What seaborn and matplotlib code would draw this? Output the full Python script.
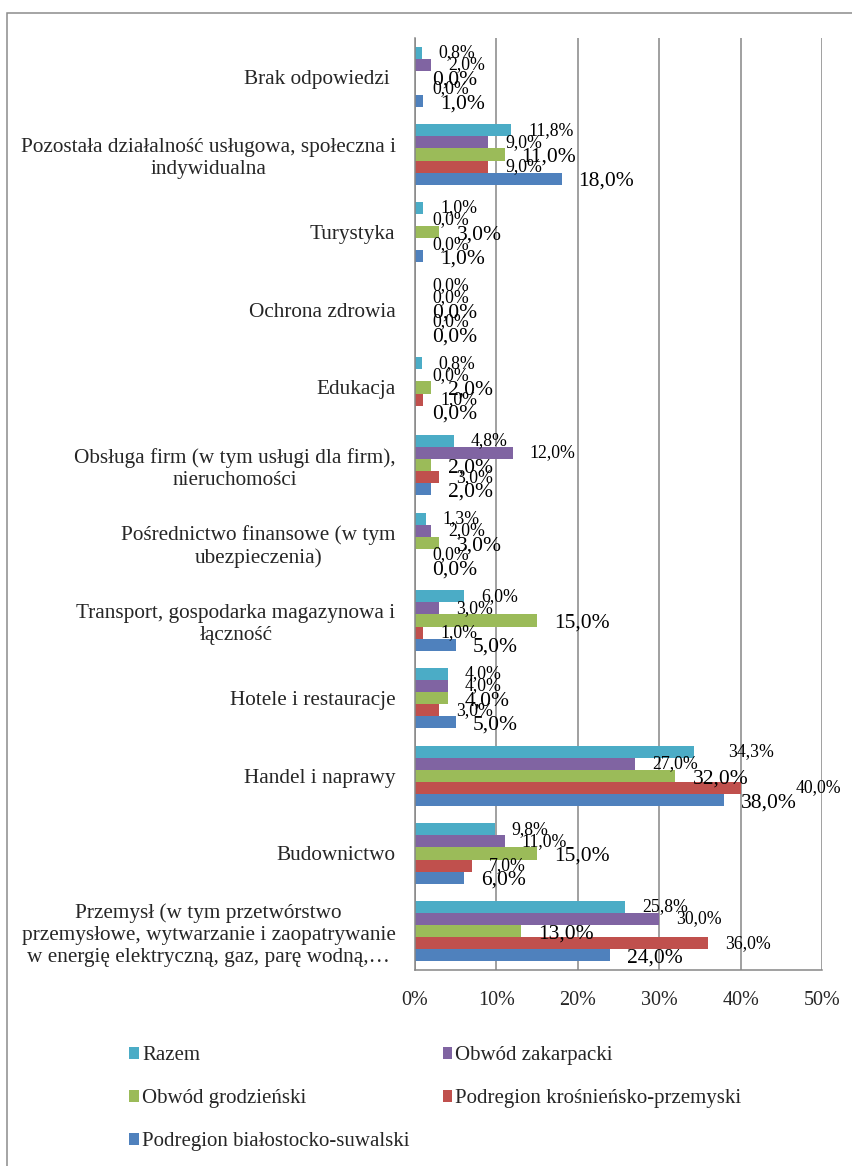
import pandas as pd
import matplotlib
matplotlib.use("Agg")
import matplotlib.pyplot as plt
import seaborn as sns
from matplotlib.patches import Rectangle, Patch

# Step 1: data
categories = [
    "Brak odpowiedzi ",
    "Pozostała działalność usługowa, społeczna i\nindywidualna",
    "Turystyka",
    "Ochrona zdrowia",
    "Edukacja",
    "Obsługa firm (w tym usługi dla firm),\nnieruchomości",
    "Pośrednictwo finansowe (w tym\nubezpieczenia)",
    "Transport, gospodarka magazynowa i\nłączność",
    "Hotele i restauracje",
    "Handel i naprawy",
    "Budownictwo",
    "Przemysł (w tym przetwórstwo\nprzemysłowe, wytwarzanie i zaopatrywanie\nw energię elektryczną, gaz, parę wodną,…",
]
series = [
    "Razem",
    "Obwód zakarpacki",
    "Obwód grodzieński",
    "Podregion krośnieńsko-przemyski",
    "Podregion białostocko-suwalski",
]
razem = [0.8, 11.8, 1.0, 0.0, 0.8, 4.8, 1.3, 6.0, 4.0, 34.3, 9.8, 25.8]
zakarpacki = [2.0, 9.0, 0.0, 0.0, 0.0, 12.0, 2.0, 3.0, 4.0, 27.0, 11.0, 30.0]
grodzienski = [0.0, 11.0, 3.0, 0.0, 2.0, 2.0, 3.0, 15.0, 4.0, 32.0, 15.0, 13.0]
krosnienski = [0.0, 9.0, 0.0, 0.0, 1.0, 3.0, 0.0, 1.0, 3.0, 40.0, 7.0, 36.0]
bialostocki = [1.0, 18.0, 1.0, 0.0, 0.0, 2.0, 0.0, 5.0, 5.0, 38.0, 6.0, 24.0]

colors = ["#4BACC6", "#8064A2", "#9BBB59", "#C0504D", "#4F81BD"]

rows = []
for name, vals in zip(series, [razem, zakarpacki, grodzienski, krosnienski, bialostocki]):
    for cat, v in zip(categories, vals):
        rows.append({"kategoria": cat, "seria": name, "wartosc": v})
df = pd.DataFrame(rows)

# Step 2: style
sns.set_style("white")
plt.rcParams["font.family"] = ["Liberation Serif", "DejaVu Serif"]
grid_col = "#868686"

fig = plt.figure(figsize=(8.53, 11.66), dpi=100)
ax = fig.add_axes([415 / 853, 1 - 970 / 1166, (822 - 415) / 853, (970 - 38) / 1166])

sns.barplot(data=df, y="kategoria", x="wartosc", hue="seria", order=categories,
            hue_order=series, palette=colors, orient="h", width=0.78,
            saturation=1, linewidth=0, ax=ax, legend=False)

# Step 3: axes
ax.set_xlim(0, 50)
ax.set_ylim(len(categories) - 0.5, -0.5)
ax.set_xticks(range(0, 51, 10))
ax.set_xticklabels([f"{t}%" for t in range(0, 51, 10)], fontsize=14.5)
ax.set_xlabel("")
ax.set_ylabel("")
ax.xaxis.grid(True, color=grid_col, linewidth=1.1)
ax.set_axisbelow(True)
for side in ["top", "right"]:
    ax.spines[side].set_visible(False)
for side in ["left", "bottom"]:
    ax.spines[side].set_color(grid_col)
    ax.spines[side].set_linewidth(1.1)

ax.tick_params(axis="x", direction="out", length=6, width=1.1, color=grid_col, pad=9)
ax.tick_params(axis="y", which="major", length=0, pad=14, labelsize=15.3)
ax.set_yticks([i - 0.5 for i in range(len(categories) + 1)], minor=True)
ax.tick_params(axis="y", which="minor", direction="out", length=6, width=1.1, color=grid_col)
for lbl in ax.get_yticklabels():
    lbl.set_multialignment("center")

# Step 4: value labels
big = {"Obwód grodzieński", "Podregion białostocko-suwalski"}
nudge_px = {("Handel i naprawy", "Razem"): 17, ("Handel i naprawy", "Podregion krośnieńsko-przemyski"): 38}
for name, cont in zip(series, ax.containers):
    for cat, bar in zip(categories, cont):
        v = bar.get_width()
        yc = bar.get_y() + bar.get_height() / 2
        extra = nudge_px.get((cat, name), 0)
        dy = -2 if name in big else 0
        ax.annotate(f"{v:.1f}%".replace(".", ","), (v, yc),
                    xytext=((17 + extra) * 0.72, dy), textcoords="offset points",
                    ha="left", va="center",
                    fontsize=15.5 if name in big else 12.8, color="black",
                    annotation_clip=False)

# Step 5: legend (row-wise order like the original)
handles = [Patch(facecolor=c, edgecolor="none") for c in colors]
order = [0, 2, 4, 1, 3]
fig.legend([handles[i] for i in order], [series[i] for i in order],
           ncol=2, loc="upper left", bbox_to_anchor=(119 / 853, 1 - 1036 / 1166),
           frameon=False, fontsize=15, handlelength=0.45, handleheight=0.45,
           handletextpad=0.15, columnspacing=1.6, labelspacing=1.15, borderpad=0)

# outer chart frame
fig.patches.append(Rectangle((7 / 853, -0.05), 1.2, 1 - 13 / 1166 + 0.05,
                             transform=fig.transFigure, fill=False,
                             edgecolor="#8c8c8c", linewidth=1.1))

fig.savefig("out.png", dpi=100)
